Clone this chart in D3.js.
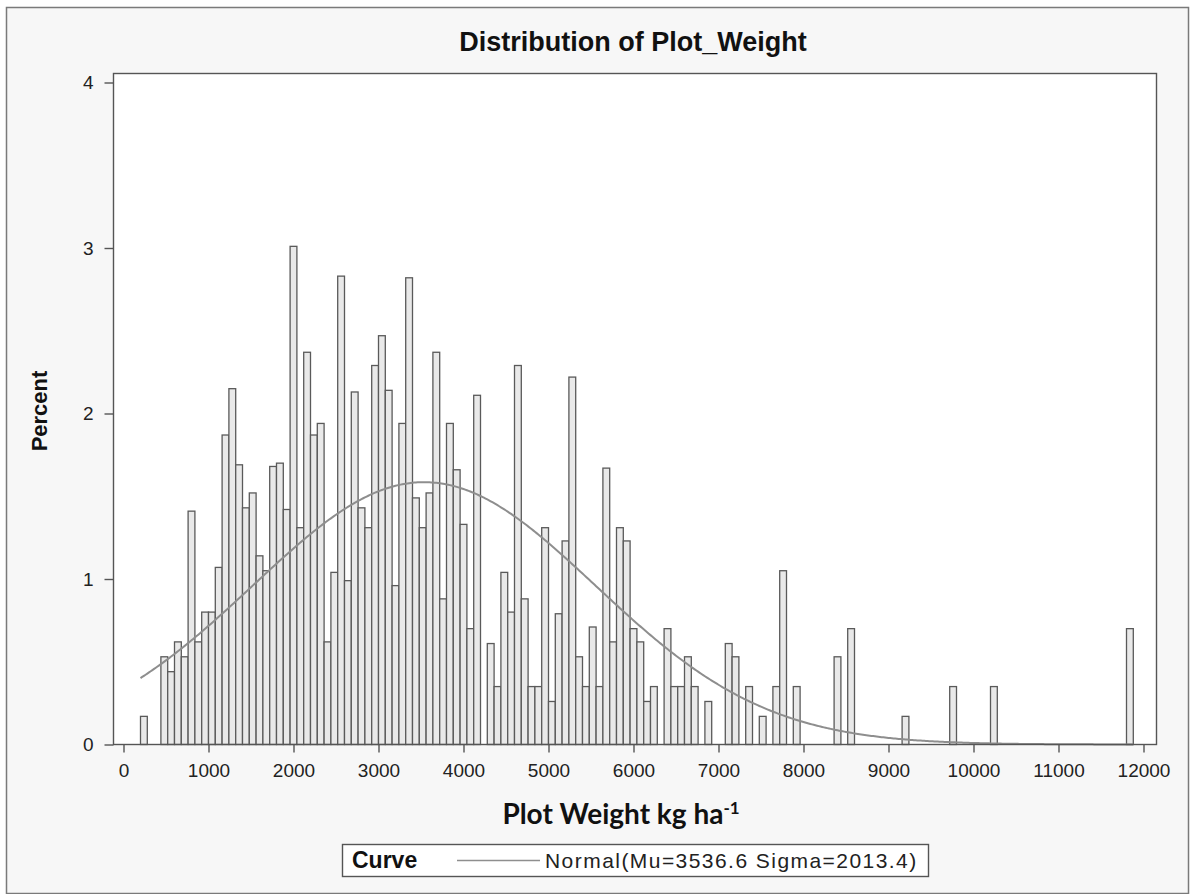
<!DOCTYPE html>
<html><head><meta charset="utf-8">
<script src="https://cdn.jsdelivr.net/npm/d3@7/dist/d3.min.js"></script>
<style>
html,body{margin:0;padding:0;background:#ffffff;}
svg{display:block;}
</style></head>
<body>
<svg id="chart" width="1195" height="894"></svg>
<script>
// ---- data (bin midpoints, width 80 kg/ha) ----
const midpoints = [240,480,560,640,720,800,880,960,1040,1120,1200,1280,1360,1440,1520,1600,1680,1760,1840,1920,
  2000,2080,2160,2240,2320,2400,2480,2560,2640,2720,2800,2880,2960,3040,3120,3200,3280,3360,3440,3520,3600,3680,
  3760,3840,3920,4000,4080,4160,4320,4400,4480,4560,4640,4720,4800,4880,4960,5040,5120,5200,5280,5360,5440,5520,
  5600,5680,5760,5840,5920,6000,6080,6160,6240,6400,6480,6560,6640,6720,6880,7120,7200,7360,7520,7680,7760,7920,
  8400,8560,9200,9760,10240,11840];
const percents = [0.17,0.53,0.44,0.62,0.53,1.41,0.62,0.80,0.80,1.07,1.87,2.15,1.69,1.43,1.52,1.14,1.05,1.68,1.70,1.42,
  3.01,1.31,2.37,1.87,1.94,0.62,1.04,2.83,0.99,2.13,1.43,1.31,2.29,2.47,2.14,0.96,1.94,2.82,1.49,1.31,1.52,2.37,
  0.88,1.94,1.66,1.33,0.70,2.11,0.61,0.35,1.04,0.80,2.29,0.88,0.35,0.35,1.31,0.26,0.79,1.23,2.22,0.53,0.35,0.71,
  0.35,1.67,0.62,1.31,1.23,0.70,0.62,0.26,0.35,0.70,0.35,0.35,0.53,0.35,0.26,0.61,0.53,0.35,0.17,0.35,1.05,0.35,
  0.53,0.70,0.17,0.35,0.35,0.70];
const binWidth = 80;
const xTicks = [0,1000,2000,3000,4000,5000,6000,7000,8000,9000,10000,11000,12000];
const yTicks = [0,1,2,3,4];
const mu = 3536.6, sigma = 2013.4;
const curveRange = [200, 11880];
const titleText = "Distribution of Plot_Weight";
const yLabel = "Percent";
const legendTitle = "Curve";
const legendText = "Normal(Mu=3536.6 Sigma=2013.4)";

// ---- drawing ----
const svg = d3.select("#chart");
svg.append("rect").attr("x",6.5).attr("y",7.5).attr("width",1182).attr("height",886)
  .attr("fill","#f7f7f7").attr("stroke","#7a7a7a").attr("stroke-width",1.5);

const plot = {left:113.5, right:1156.5, top:73.5, bottom:744.5};
const x = d3.scaleLinear().domain([0,12000]).range([123.5,1143.5]);
const y = d3.scaleLinear().domain([0,4]).range([744.5,82.5]);

svg.append("rect").attr("x",plot.left).attr("y",plot.top)
  .attr("width",plot.right-plot.left).attr("height",plot.bottom-plot.top)
  .attr("fill","#ffffff");

// bars
svg.append("g").selectAll("rect").data(midpoints.map((m,i)=>({m, p:percents[i]}))).join("rect")
  .attr("x",d=>x(d.m-binWidth/2))
  .attr("width",d=>x(d.m+binWidth/2)-x(d.m-binWidth/2))
  .attr("y",d=>y(d.p))
  .attr("height",d=>y(0)-y(d.p))
  .attr("fill","#e9e9e9").attr("stroke","#5a5a5a").attr("stroke-width",1.3);

// normal curve scaled to percent per bin
const pts = d3.range(curveRange[0], curveRange[1]+1, 20).map(v=>{
  const z=(v-mu)/sigma;
  return [v, 100*binWidth/(sigma*Math.sqrt(2*Math.PI))*Math.exp(-0.5*z*z)];
});
svg.append("path").datum(pts)
  .attr("d", d3.line().x(d=>x(d[0])).y(d=>y(d[1])))
  .attr("fill","none").attr("stroke","#8e8e8e").attr("stroke-width",2);

// frame
svg.append("rect").attr("x",plot.left).attr("y",plot.top)
  .attr("width",plot.right-plot.left).attr("height",plot.bottom-plot.top)
  .attr("fill","none").attr("stroke","#555").attr("stroke-width",1.4);

// axes
const xAxis = svg.append("g").attr("transform",`translate(0,${plot.bottom})`)
  .call(d3.axisBottom(x).tickValues(xTicks).tickSize(8).tickPadding(11).tickFormat(d3.format("d")));
xAxis.select(".domain").remove();
xAxis.selectAll("line").attr("stroke","#555").attr("stroke-width",1.4);
xAxis.selectAll("text").attr("font-family","Liberation Sans, Arial, sans-serif").attr("font-size",19).attr("fill","#222");

const yAxis = svg.append("g").attr("transform",`translate(${plot.left},0)`)
  .call(d3.axisLeft(y).tickValues(yTicks).tickSize(9).tickPadding(11).tickFormat(d3.format("d")));
yAxis.select(".domain").remove();
yAxis.selectAll("line").attr("stroke","#555").attr("stroke-width",1.4);
yAxis.selectAll("text").attr("font-family","Liberation Sans, Arial, sans-serif").attr("font-size",19).attr("fill","#222");

// title
svg.append("text").attr("x",633).attr("y",51).attr("text-anchor","middle")
  .attr("font-family","Liberation Sans, Arial, sans-serif").attr("font-weight","bold").attr("font-size",27)
  .attr("fill","#111").text(titleText);

// x label with superscript
const xl = svg.append("text").attr("x",621).attr("y",824).attr("text-anchor","middle")
  .attr("font-family","Lato, Open Sans, sans-serif").attr("font-weight","bold").attr("font-size",28).attr("fill","#111");
xl.append("tspan").text("Plot Weight kg ha");
xl.append("tspan").attr("dy",-10).attr("font-size",17).text("-1");

// y label
svg.append("text").attr("transform","translate(47,411) rotate(-90)").attr("text-anchor","middle")
  .attr("font-family","Liberation Sans, Arial, sans-serif").attr("font-weight","bold").attr("font-size",22)
  .attr("fill","#111").text(yLabel);

// legend
svg.append("rect").attr("x",342.5).attr("y",844.5).attr("width",586).attr("height",32)
  .attr("fill","#ffffff").attr("stroke","#555").attr("stroke-width",1.4);
svg.append("text").attr("x",352).attr("y",868).attr("font-family","Liberation Sans, Arial, sans-serif")
  .attr("font-weight","bold").attr("font-size",23).attr("fill","#111").text(legendTitle);
svg.append("line").attr("x1",457).attr("x2",540).attr("y1",860.5).attr("y2",860.5)
  .attr("stroke","#8e8e8e").attr("stroke-width",1.5);
svg.append("text").attr("x",545).attr("y",868).attr("font-family","Liberation Sans, Arial, sans-serif")
  .attr("font-size",21).attr("letter-spacing",1.45).attr("fill","#222").text(legendText);
</script>
</body></html>
